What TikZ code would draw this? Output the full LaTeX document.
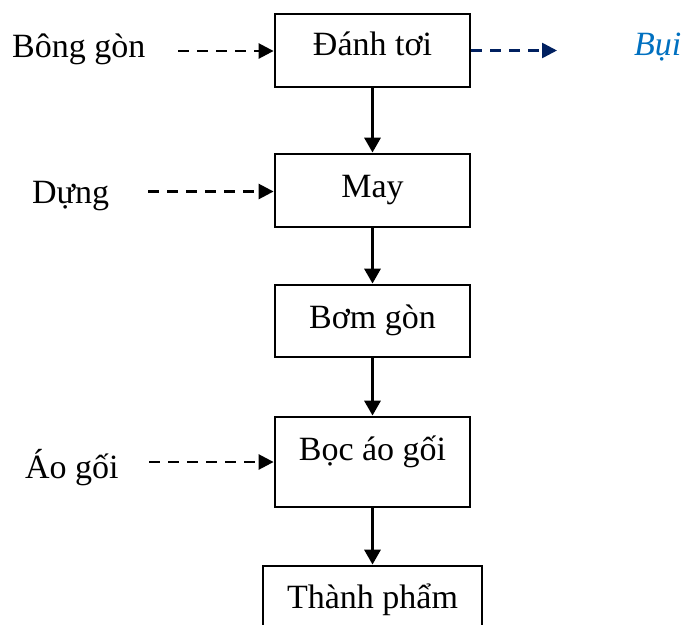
\documentclass[tikz,border=0pt]{standalone}
\usepackage{fontspec}
\setmainfont{Liberation Serif}
\usetikzlibrary{arrows.meta}
\definecolor{navy}{HTML}{002060}
\definecolor{dustblue}{HTML}{0070C0}
\begin{document}
\begin{tikzpicture}[x=1pt,y=1pt,
  font=\fontsize{34}{40}\selectfont,
  stepbox/.style={draw, line width=2.8pt, inner sep=0pt,
    minimum width=195pt, minimum height=73pt,
    text height=24pt, text depth=10pt},
  flow/.style={line width=3.3pt, -{Triangle[length=15pt,width=16pt]}},
  feed/.style={line width=2.6pt, dash pattern=on 11pt off 8pt,
    -{Triangle[length=15pt,width=15pt]}},
  lbl/.style={anchor=base west, inner sep=0pt}]
\useasboundingbox (0,0) rectangle (684,-624);
\clip (0,0) rectangle (684,-624);

% process steps
\node[stepbox, text depth=15pt] (b1) at (372.5,-50.5) {Đánh tơi};
\node[stepbox] (b2) at (372.5,-190.5) {May};
\node[stepbox, minimum height=72pt] (b3) at (372.5,-321) {Bơm gòn};
\node[stepbox, minimum height=90pt, text depth=28pt] (b4) at (372.5,-462) {Bọc áo gối};
\node[stepbox, minimum width=219pt, minimum height=64pt, text depth=4pt] (b5) at (372.5,-598) {Thành phẩm};

% inputs and output
\node[lbl] (in1) at (12,-57) {Bông gòn};
\node[lbl] (in2) at (32,-203) {Dựng};
\node[lbl] (in3) at (25,-478) {Áo gối};
\node[lbl, text=dustblue, font=\fontsize{34}{40}\selectfont\itshape] (out1) at (634,-55) {Bụi};

\coordinate (s1) at (178,-51);
\coordinate (s2) at (148,-191.5);
\coordinate (s3) at (149,-462);
\coordinate (e1) at (557,-50.5);

% main flow
\draw[flow] (b1) -- (b2);
\draw[flow] (b2) -- (b3);
\draw[flow] (b3) -- (b4);
\draw[flow] (b4) -- (b5);

% material feeds
\draw[feed] (s1) -- (s1 -| b1.west);
\draw[feed] (s2) -- (s2 -| b2.west);
\draw[feed] (s3) -- (s3 -| b4.west);
\draw[feed, navy] (b1.east) -- (e1);
\end{tikzpicture}
\end{document}
